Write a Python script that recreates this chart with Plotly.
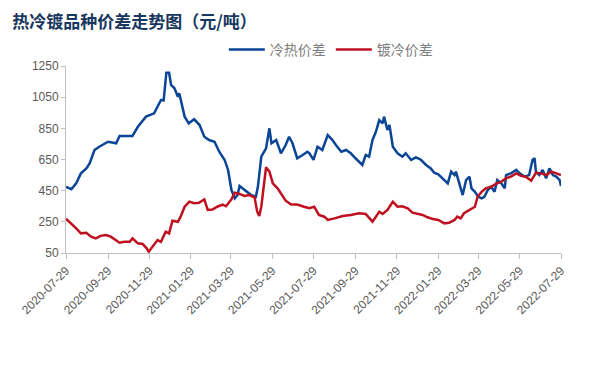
import plotly.graph_objects as go

# 冷热价差 (blue)
cold_hot_dates = [
    "2020-07-29","2020-08-06","2020-08-13","2020-08-20","2020-08-28","2020-09-02","2020-09-09","2020-09-16",
    "2020-09-29","2020-10-11","2020-10-16","2020-10-26","2020-11-04","2020-11-12","2020-11-24","2020-12-06",
    "2020-12-16","2020-12-20","2020-12-24","2020-12-28","2020-12-31","2021-01-05","2021-01-10","2021-01-12",
    "2021-01-17","2021-01-20","2021-01-26","2021-02-03","2021-02-11","2021-02-18","2021-02-25","2021-03-05",
    "2021-03-12","2021-03-20","2021-03-25","2021-03-30","2021-04-04","2021-04-08","2021-04-11","2021-04-18",
    "2021-04-28","2021-05-05","2021-05-08","2021-05-13","2021-05-20","2021-05-25","2021-05-28","2021-06-04",
    "2021-06-11","2021-06-18","2021-06-23","2021-06-28","2021-07-05","2021-07-13","2021-07-20","2021-07-23",
    "2021-07-29","2021-08-04","2021-08-11","2021-08-19","2021-08-26","2021-08-31","2021-09-08","2021-09-15",
    "2021-09-22","2021-09-29","2021-10-09","2021-10-14","2021-10-19","2021-10-24","2021-10-29","2021-11-03",
    "2021-11-08","2021-11-10","2021-11-15","2021-11-18","2021-11-23","2021-11-30","2021-12-07","2021-12-12",
    "2021-12-20","2021-12-27","2022-01-03","2022-01-11","2022-01-18","2022-01-23","2022-01-29","2022-02-07",
    "2022-02-12","2022-02-17","2022-02-22","2022-02-24","2022-03-01","2022-03-06","2022-03-11","2022-03-16",
    "2022-03-19","2022-03-24","2022-03-29","2022-04-03","2022-04-07","2022-04-12","2022-04-17","2022-04-22",
    "2022-04-26","2022-05-02","2022-05-07","2022-05-09","2022-05-16","2022-05-24","2022-05-29","2022-06-05",
    "2022-06-12","2022-06-17","2022-06-20","2022-06-22","2022-06-27","2022-07-02","2022-07-07","2022-07-12",
    "2022-07-17","2022-07-22","2022-07-27","2022-07-29",
]
cold_hot_values = [
    475, 459, 497, 561, 593, 626, 711, 732,
    764, 754, 801, 801, 801, 860, 925, 946,
    1032, 1030, 1207, 1207, 1128, 1107, 1053, 1075,
    968, 925, 882, 908, 871, 796, 775, 764,
    700, 647, 583, 454, 401, 422, 480, 454,
    422, 411, 475, 668, 722, 850, 754, 775,
    690, 743, 796, 754, 658, 679, 700, 690,
    647, 732, 711, 807, 775, 743, 700, 711,
    690, 658, 615, 679, 668, 775, 828, 903,
    882, 925, 839, 871, 732, 690, 668, 690,
    647, 663, 650, 615, 593, 565, 555, 518,
    497, 572, 550, 572, 497, 422, 518, 540,
    465, 443, 411, 401, 411, 454, 475, 443,
    518, 497, 465, 550, 561, 583, 561, 540,
    550, 647, 658, 572, 550, 583, 529, 593,
    550, 540, 518, 480,
]

# 镀冷价差 (red)
galv_cold_dates = [
    "2020-07-29","2020-08-06","2020-08-13","2020-08-20","2020-08-28","2020-09-04","2020-09-11","2020-09-18",
    "2020-09-26","2020-10-03","2020-10-11","2020-10-16","2020-10-23","2020-10-31","2020-11-04","2020-11-12",
    "2020-11-19","2020-11-25","2020-11-28","2020-12-04","2020-12-11","2020-12-16","2020-12-23","2020-12-28",
    "2021-01-02","2021-01-10","2021-01-14","2021-01-20","2021-01-27","2021-02-03","2021-02-10","2021-02-18",
    "2021-02-23","2021-03-02","2021-03-09","2021-03-17","2021-03-22","2021-03-30","2021-04-04","2021-04-11",
    "2021-04-18","2021-04-25","2021-05-03","2021-05-07","2021-05-10","2021-05-13","2021-05-16","2021-05-20",
    "2021-05-25","2021-05-30","2021-06-06","2021-06-13","2021-06-18","2021-06-26","2021-07-05","2021-07-15",
    "2021-07-23","2021-07-30","2021-08-06","2021-08-14","2021-08-19","2021-08-29","2021-09-10","2021-09-22",
    "2021-10-04","2021-10-14","2021-10-24","2021-10-29","2021-11-03","2021-11-08","2021-11-15","2021-11-23",
    "2021-11-30","2021-12-07","2021-12-15","2021-12-22","2021-12-29","2022-01-06","2022-01-13","2022-01-21",
    "2022-01-29","2022-02-07","2022-02-14","2022-02-22","2022-02-26","2022-03-03","2022-03-08","2022-03-16",
    "2022-03-24","2022-03-28","2022-04-03","2022-04-09","2022-04-17","2022-04-24","2022-05-02","2022-05-09",
    "2022-05-16","2022-05-24","2022-05-31","2022-06-07","2022-06-15","2022-06-22","2022-06-30","2022-07-07",
    "2022-07-15","2022-07-22","2022-07-29",
]
galv_cold_values = [
    270, 240, 208, 176, 180, 155, 144, 160,
    165, 155, 133, 116, 122, 122, 144, 112,
    108, 80, 58, 90, 133, 122, 187, 176,
    257, 250, 283, 347, 379, 369, 372, 394,
    326, 329, 347, 361, 350, 394, 437, 429,
    416, 422, 407, 315, 287, 347, 454, 600,
    572, 497, 465, 422, 386, 361, 361, 347,
    337, 347, 294, 283, 262, 272, 287, 294,
    305, 300, 251, 283, 315, 300, 326, 379,
    347, 350, 337, 309, 300, 294, 279, 268,
    262, 240, 244, 262, 283, 272, 305, 326,
    347, 411, 443, 465, 475, 493, 508, 529,
    540, 561, 545, 540, 514, 565, 561, 550,
    572, 561, 550,
]

tick_dates = [
    "2020-07-29","2020-09-29","2020-11-29","2021-01-29","2021-03-29","2021-05-29","2021-07-29",
    "2021-09-29","2021-11-29","2022-01-29","2022-03-29","2022-05-29","2022-07-29",
]
y_ticks = [50, 250, 450, 650, 850, 1050, 1250]

series_names = ["冷热价差", "镀冷价差"]

fig = go.Figure()
fig.add_trace(go.Scatter(x=cold_hot_dates, y=cold_hot_values, mode="lines", name=series_names[0],
                         line=dict(color="#0B4596", width=2.5)))
fig.add_trace(go.Scatter(x=galv_cold_dates, y=galv_cold_values, mode="lines", name=series_names[1],
                         line=dict(color="#C0101F", width=2.5)))

axis_font = dict(family="Liberation Sans, Arial, sans-serif", size=12, color="#595959")

fig.update_layout(
    width=595, height=375,
    margin=dict(l=58, r=42, t=58, b=130),
    paper_bgcolor="white", plot_bgcolor="white",
    title=dict(text="<b>热冷镀品种价差走势图（元/吨）</b>", x=0.007, xanchor="left", y=0.963, yanchor="middle",
               font=dict(family="Noto Sans CJK SC", size=17, color="#17375E")),
    legend=dict(orientation="h", x=0.535, xanchor="center", y=1.086, yanchor="middle",
                font=dict(family="Noto Sans CJK SC", size=14, color="#7F7F7F"),
                itemwidth=36, tracegroupgap=0, bgcolor="rgba(0,0,0,0)"),
    showlegend=True,
)
fig.update_xaxes(
    type="date", range=["2020-07-29", "2022-07-29"],
    tickmode="array", tickvals=tick_dates, ticktext=tick_dates, tickangle=-45,
    showgrid=False, showline=True, linecolor="#BFBFBF", linewidth=1,
    ticks="outside", ticklen=5, tickcolor="#BFBFBF", tickfont=axis_font, zeroline=False,
)
fig.update_yaxes(
    range=[50, 1250], tickmode="array", tickvals=y_ticks,
    showgrid=False, showline=True, linecolor="#BFBFBF", linewidth=1,
    ticks="outside", ticklen=4, tickcolor="#BFBFBF", tickfont=axis_font, zeroline=False,
)

fig.write_html("out.html")
